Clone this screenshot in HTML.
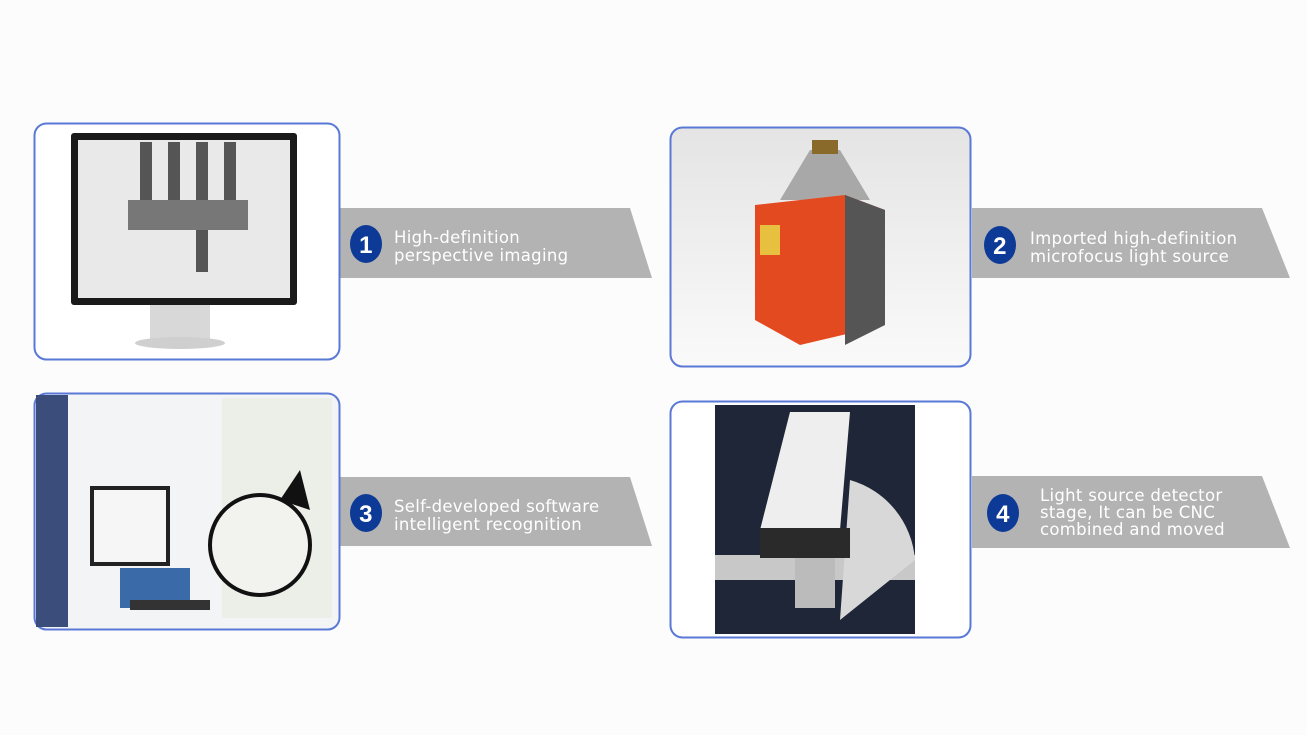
<!DOCTYPE html>
<html><head><meta charset="utf-8"><style>
html,body{margin:0;padding:0;background:#fdfdfd;}
svg{display:block}
text{font-family:"DejaVu Sans","Liberation Sans",sans-serif;fill:#fff;font-size:16.5px;letter-spacing:0.3px}
.n{font-family:"Liberation Sans",sans-serif;font-weight:bold;font-size:24px;fill:#fff}
</style></head><body>
<svg width="1307" height="735" viewBox="0 0 1307 735" xmlns="http://www.w3.org/2000/svg">
<defs><linearGradient id="g2" x1="0" y1="0" x2="0" y2="1"><stop offset="0" stop-color="#e4e4e4"/><stop offset="1" stop-color="#fafafa"/></linearGradient></defs>
<rect width="1307" height="735" fill="#fcfcfc"/>
<polygon points="340,208 630,208 652,278 340,278" fill="#b3b3b3"/>
<polygon points="972,208 1262,208 1290,278 972,278" fill="#b3b3b3"/>
<polygon points="340,477 630,477 652,546 340,546" fill="#b3b3b3"/>
<polygon points="972,476 1262,476 1290,548 972,548" fill="#b3b3b3"/>
<g>
<ellipse cx="366" cy="244" rx="16" ry="19" fill="#0d3a96"/><text class="n" x="366" y="253" text-anchor="middle">1</text>
<ellipse cx="1000" cy="245" rx="16" ry="19" fill="#0d3a96"/><text class="n" x="1000" y="254" text-anchor="middle">2</text>
<ellipse cx="366" cy="513" rx="16" ry="19" fill="#0d3a96"/><text class="n" x="366" y="522" text-anchor="middle">3</text>
<ellipse cx="1003" cy="513" rx="16" ry="19" fill="#0d3a96"/><text class="n" x="1003" y="522" text-anchor="middle">4</text>
</g>
<text x="394" y="243">High-definition</text>
<text x="394" y="261">perspective imaging</text>
<text x="1030" y="244">Imported high-definition</text>
<text x="1030" y="262">microfocus light source</text>
<text x="394" y="512">Self-developed software</text>
<text x="394" y="530">intelligent recognition</text>
<text x="1040" y="501">Light source detector</text>
<text x="1040" y="518">stage,  It can be CNC</text>
<text x="1040" y="535">combined and moved</text>

<rect x="34.5" y="123.5" width="305" height="236" rx="12" fill="#fff" stroke="#5a78d6" stroke-width="2"/>
<rect x="150" y="300" width="60" height="40" fill="#d8d8d8"/>
<ellipse cx="180" cy="343" rx="45" ry="6" fill="#cfcfcf"/>
<rect x="71" y="133" width="226" height="172" rx="3" fill="#1a1a1a"/>
<rect x="78" y="140" width="212" height="158" fill="#e9e9e9"/>
<g fill="#555">
<rect x="140" y="142" width="12" height="80"/><rect x="168" y="142" width="12" height="80"/><rect x="196" y="142" width="12" height="130"/><rect x="224" y="142" width="12" height="80"/>
<rect x="128" y="200" width="120" height="30" fill="#777"/>
</g>
<rect x="670.5" y="127.5" width="300" height="239" rx="12" fill="url(#g2)" stroke="#5a78d6" stroke-width="2"/>
<polygon points="810,150 840,150 870,200 780,200" fill="#a8a8a8"/>
<rect x="812" y="140" width="26" height="14" fill="#8a6a2a"/>
<polygon points="755,205 845,195 885,210 885,325 800,345 755,320" fill="#e34a20"/>
<polygon points="845,195 885,210 885,325 845,345" fill="#555"/>
<rect x="760" y="225" width="20" height="30" fill="#e8c040"/>
<rect x="34.5" y="393.5" width="305" height="236" rx="12" fill="#f3f4f6" stroke="#5a78d6" stroke-width="2"/>
<rect x="36" y="395" width="32" height="232" fill="#3b4d7a"/>
<rect x="222" y="398" width="110" height="220" fill="#ebefe8"/>
<rect x="90" y="486" width="80" height="80" fill="#222"/><rect x="94" y="490" width="72" height="72" fill="#f6f6f6"/>
<rect x="120" y="568" width="70" height="40" fill="#3a6aa8"/>
<rect x="130" y="600" width="80" height="10" fill="#333"/>
<circle cx="260" cy="545" r="50" fill="#f2f2ef" stroke="#111" stroke-width="4"/>
<polygon points="280,500 300,470 310,510" fill="#111"/>
<rect x="670.5" y="401.5" width="300" height="236" rx="12" fill="#fff" stroke="#5a78d6" stroke-width="2"/>
<rect x="715" y="405" width="200" height="229" fill="#1f2638"/>
<rect x="715" y="555" width="200" height="25" fill="#c8c8c8"/>
<path d="M850 480 A90 90 0 0 1 915 560 L840 620 Z" fill="#d8d8d8"/>
<polygon points="790,412 850,412 840,530 760,530" fill="#eeeeee"/>
<rect x="760" y="528" width="90" height="30" fill="#2a2a2a"/>
<rect x="795" y="558" width="40" height="50" fill="#bbb"/>
</svg>
</body></html>
